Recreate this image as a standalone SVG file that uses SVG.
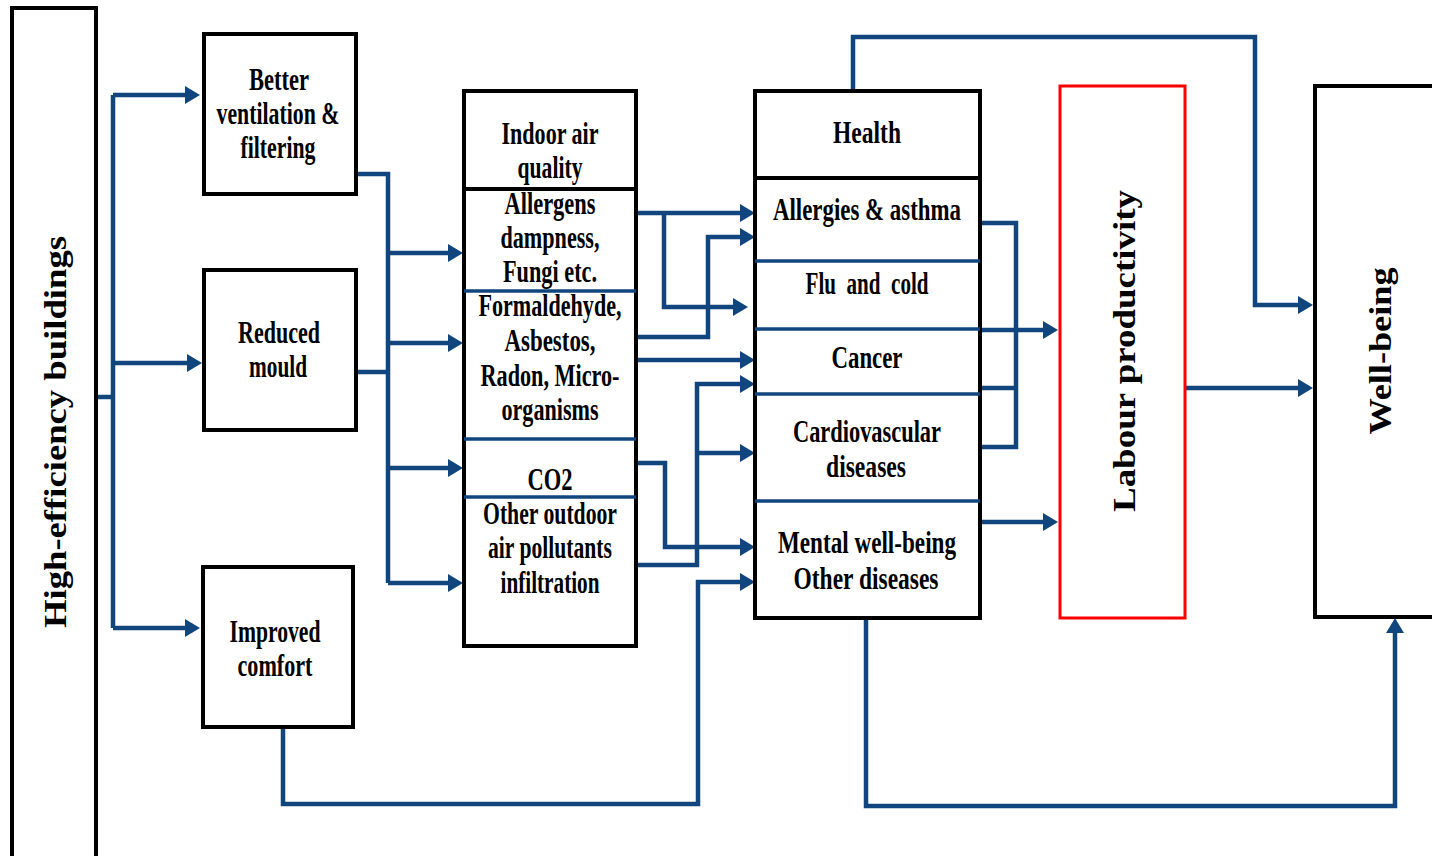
<svg xmlns="http://www.w3.org/2000/svg" width="1432" height="856" viewBox="0 0 1432 856">
<style>
.box{fill:#fff;stroke:#000;stroke-width:4}
.red{fill:#fff;stroke:#ff0000;stroke-width:3}
.div{stroke:#10467d;stroke-width:3.5}
.divk{stroke:#000;stroke-width:4}
.c{fill:none;stroke:#10467d;stroke-width:4.5;stroke-linejoin:miter}
.a{marker-end:url(#ah)}
text{font-family:"Liberation Serif","Times New Roman",serif;font-weight:bold;font-size:31px;fill:#000;text-anchor:middle}
</style>
<defs>
<marker id="ah" markerUnits="userSpaceOnUse" markerWidth="15" markerHeight="18" viewBox="0 0 15 18" refX="9" refY="9" orient="auto">
<path d="M0,0 L15,9 L0,18 Z" fill="#10467d"/>
</marker>
</defs>
<g id="connectors">
<path class="c" d="M96 397 H113"/>
<path class="c" d="M113 95 V628"/>
<path class="c a" d="M113 95 H194"/>
<path class="c a" d="M113 363 H196"/>
<path class="c a" d="M113 628 H194"/>
<path class="c" d="M356 174 H388 V583"/>
<path class="c" d="M356 372 H388"/>
<path class="c a" d="M388 253 H457"/>
<path class="c a" d="M388 343 H457"/>
<path class="c a" d="M388 468 H457"/>
<path class="c a" d="M388 583 H457"/>
<path class="c a" d="M636 213 H749"/>
<path class="c a" d="M664 213 V307 H742"/>
<path class="c a" d="M636 337 H708 V237 H749"/>
<path class="c a" d="M636 360 H749"/>
<path class="c a" d="M636 463 H665 V547 H749"/>
<path class="c a" d="M636 565 H697 V384 H749"/>
<path class="c a" d="M697 453 H749"/>
<path class="c a" d="M283 727 V804 H698 V582 H749"/>
<path class="c" d="M980 223 H1016 V447 H980"/>
<path class="c" d="M980 388 H1016"/>
<path class="c a" d="M980 330 H1052"/>
<path class="c a" d="M980 522 H1052"/>
<path class="c a" d="M853 91 V37 H1255 V305 H1307"/>
<path class="c a" d="M1185 388 H1307"/>
<path class="c a" d="M866 618 V806 H1395 V624"/>
</g>
<g id="buildings">
<rect class="box" x="12" y="8" width="84" height="860"/>
<text transform="translate(66,432) rotate(-90)" textLength="392" lengthAdjust="spacingAndGlyphs">High-efficiency buildings</text>
</g>
<g id="ventilation">
<rect class="box" x="204" y="34" width="152" height="160"/>
<text x="279" y="90" textLength="60" lengthAdjust="spacingAndGlyphs">Better</text>
<text x="278" y="124" textLength="123" lengthAdjust="spacingAndGlyphs">ventilation &amp;</text>
<text x="278" y="158" textLength="75" lengthAdjust="spacingAndGlyphs">filtering</text>
</g>
<g id="mould">
<rect class="box" x="204" y="270" width="152" height="160"/>
<text x="279" y="343" textLength="82" lengthAdjust="spacingAndGlyphs">Reduced</text>
<text x="278" y="377" textLength="58" lengthAdjust="spacingAndGlyphs">mould</text>
</g>
<g id="comfort">
<rect class="box" x="203" y="567" width="150" height="160"/>
<text x="275" y="642" textLength="91" lengthAdjust="spacingAndGlyphs">Improved</text>
<text x="275" y="676" textLength="75" lengthAdjust="spacingAndGlyphs">comfort</text>
</g>
<g id="iaq">
<rect class="box" x="464" y="91" width="172" height="555"/>
<line class="divk" x1="464" y1="189" x2="636" y2="189"/>
<line class="div" x1="464" y1="291" x2="636" y2="291"/>
<line class="div" x1="464" y1="439" x2="636" y2="439"/>
<line class="div" x1="464" y1="497" x2="636" y2="497"/>
<text x="550" y="144" textLength="97" lengthAdjust="spacingAndGlyphs">Indoor air</text>
<text x="550" y="178" textLength="65" lengthAdjust="spacingAndGlyphs">quality</text>
<text x="550" y="214" textLength="91" lengthAdjust="spacingAndGlyphs">Allergens</text>
<text x="550" y="248" textLength="99" lengthAdjust="spacingAndGlyphs">dampness,</text>
<text x="550" y="282" textLength="94" lengthAdjust="spacingAndGlyphs">Fungi etc.</text>
<text x="550" y="316" textLength="143" lengthAdjust="spacingAndGlyphs">Formaldehyde,</text>
<text x="550" y="351" textLength="91" lengthAdjust="spacingAndGlyphs">Asbestos,</text>
<text x="550" y="386" textLength="139" lengthAdjust="spacingAndGlyphs">Radon, Micro-</text>
<text x="550" y="420" textLength="97" lengthAdjust="spacingAndGlyphs">organisms</text>
<text x="550" y="490" textLength="45" lengthAdjust="spacingAndGlyphs">CO2</text>
<text x="550" y="524" textLength="134" lengthAdjust="spacingAndGlyphs">Other outdoor</text>
<text x="550" y="558" textLength="124" lengthAdjust="spacingAndGlyphs">air pollutants</text>
<text x="550" y="593" textLength="99" lengthAdjust="spacingAndGlyphs">infiltration</text>
</g>
<g id="health">
<rect class="box" x="755" y="91" width="225" height="527"/>
<line class="divk" x1="755" y1="178" x2="980" y2="178"/>
<line class="div" x1="755" y1="261" x2="980" y2="261"/>
<line class="div" x1="755" y1="329" x2="980" y2="329"/>
<line class="div" x1="755" y1="394" x2="980" y2="394"/>
<line class="div" x1="755" y1="501" x2="980" y2="501"/>
<text x="867" y="143" textLength="68" lengthAdjust="spacingAndGlyphs">Health</text>
<text x="867" y="220" textLength="188" lengthAdjust="spacingAndGlyphs">Allergies &amp; asthma</text>
<text x="867" y="294" textLength="123" lengthAdjust="spacingAndGlyphs" xml:space="preserve" style="white-space:pre">Flu  and  cold</text>
<text x="867" y="368" textLength="71" lengthAdjust="spacingAndGlyphs">Cancer</text>
<text x="867" y="442" textLength="148" lengthAdjust="spacingAndGlyphs">Cardiovascular</text>
<text x="866" y="477" textLength="80" lengthAdjust="spacingAndGlyphs">diseases</text>
<text x="867" y="553" textLength="178" lengthAdjust="spacingAndGlyphs">Mental well-being</text>
<text x="866" y="589" textLength="145" lengthAdjust="spacingAndGlyphs">Other diseases</text>
</g>
<g id="labour">
<rect class="red" x="1060" y="86" width="125" height="532"/>
<text transform="translate(1135,351) rotate(-90)" textLength="322" lengthAdjust="spacingAndGlyphs">Labour productivity</text>
</g>
<g id="wellbeing">
<rect class="box" x="1315" y="86" width="140" height="531"/>
<text transform="translate(1391,351) rotate(-90)" textLength="167" lengthAdjust="spacingAndGlyphs">Well-being</text>
</g>
</svg>
